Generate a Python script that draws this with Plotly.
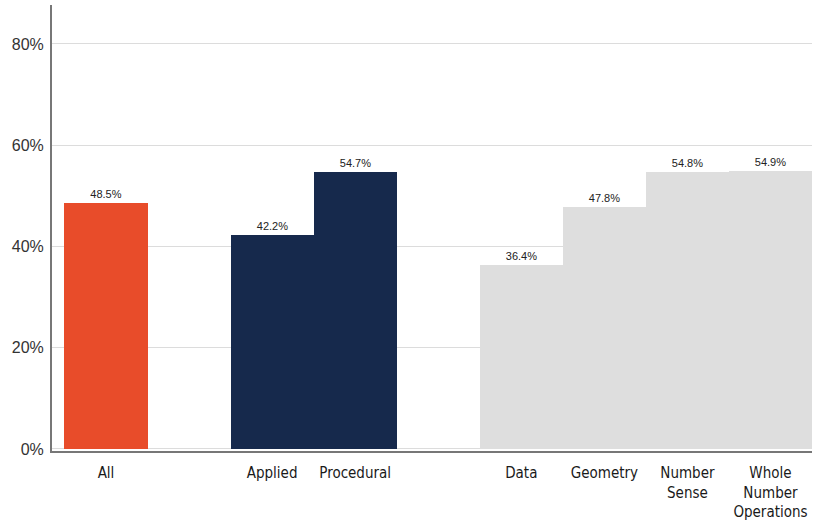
import plotly.graph_objects as go

# Share of correct responses by reporting category
overall_labels = ["All"]
overall_values = [48.5]

format_labels = ["Applied", "Procedural"]
format_values = [42.2, 54.7]

strand_labels = ["Data", "Geometry", "Number<br>Sense", "Whole<br>Number<br>Operations"]
strand_values = [36.4, 47.8, 54.8, 54.9]

groups = [
    (overall_labels, overall_values, "#E84C2A"),
    (format_labels, format_values, "#16294C"),
    (strand_labels, strand_values, "#DEDEDE"),
]

fig = go.Figure()
tickvals, ticktext = [], []
pos = 0
for labels, values, color in groups:
    xs = list(range(pos, pos + len(labels)))
    fig.add_trace(go.Bar(
        x=xs, y=values, width=1.0,
        marker=dict(color=color, line=dict(width=0)),
        text=[f"{v:.1f}%" for v in values],
        textposition="outside",
        textfont=dict(family="Liberation Sans, Arial, sans-serif", size=11, color="#222222"),
        cliponaxis=False,
        showlegend=False,
        hoverinfo="skip",
    ))
    tickvals += xs
    ticktext += labels
    pos += len(labels) + 1

fig.update_layout(
    width=814, height=522,
    margin=dict(l=52, r=2, t=5, b=71),
    paper_bgcolor="white", plot_bgcolor="white",
    bargap=0,
    xaxis=dict(
        tickvals=tickvals, ticktext=ticktext,
        range=[-0.65, 8.5],
        showgrid=False, zeroline=False,
        showline=True, linecolor="#777777", linewidth=2,
        ticks="", ticklabelstandoff=7,
        tickfont=dict(family="DejaVu Sans Condensed, Liberation Sans Narrow, sans-serif", size=15, color="#1a1a1a"),
    ),
    yaxis=dict(
        range=[-0.4, 87.7],
        tickvals=[0, 20, 40, 60, 80],
        ticktext=["0%", "20%", "40%", "60%", "80%"],
        showgrid=True, gridcolor="#DCDCDC", gridwidth=1,
        zeroline=False,
        showline=True, linecolor="#777777", linewidth=2,
        ticks="", ticklabelstandoff=3,
        tickfont=dict(family="Liberation Sans, Arial, sans-serif", size=16, color="#333333"),
    ),
)

fig.write_html("out.html")
